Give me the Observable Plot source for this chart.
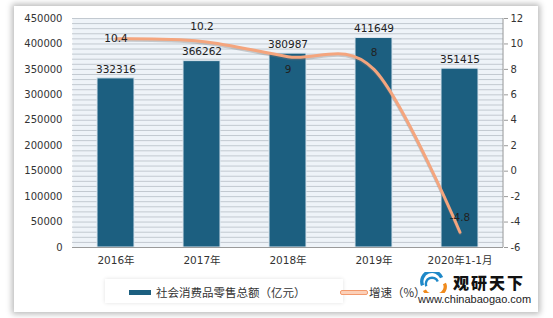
<!DOCTYPE html>
<html><head><meta charset="utf-8">
<script src="https://cdn.jsdelivr.net/npm/d3@7"></script>
<script src="https://cdn.jsdelivr.net/npm/@observablehq/plot@0.6"></script>
<style>
body{margin:0;background:#fff;}
#wrap{position:relative;width:553px;height:318px;overflow:hidden;font-family:"DejaVu Sans","Noto Sans CJK SC",sans-serif;}
#card{position:absolute;left:14px;top:6px;width:524px;height:306px;background:#fff;box-shadow:0 0 6px 2px rgba(0,0,0,0.28);}
#chart{position:absolute;left:0;top:0;}
#chart svg{background:transparent;}
#legendbox{position:absolute;left:105px;top:279px;width:238px;height:24px;background:#fff;box-shadow:0 0 4px rgba(0,0,0,0.12);}
.lg{position:absolute;font-family:"Noto Sans CJK SC",sans-serif;font-size:11.5px;color:#333;line-height:14px;}
.sw1{position:absolute;left:129px;top:290px;width:22px;height:5px;background:#1c5f80;}
.sw2{position:absolute;left:340px;top:290px;width:26px;height:3px;background:#fcd0b8;border:1px solid #f29a6e;border-radius:2px;}
#wm1{position:absolute;left:453px;top:273px;font-family:"Noto Sans CJK SC",sans-serif;font-weight:900;font-size:16px;letter-spacing:2px;color:#111;line-height:18px;}
#wm2{position:absolute;left:418px;top:293px;font-family:"Liberation Sans",Arial,sans-serif;font-size:11px;color:#222;line-height:12px;}
#logo{position:absolute;left:418px;top:272px;}
</style></head>
<body>
<div id="wrap">
  <div id="card"></div>
  <div id="chart"></div>
  <div id="legendbox"></div>
  <div class="sw1"></div>
  <div class="lg" style="left:156px;top:285px;">社会消费品零售总额（亿元）</div>
  <div class="sw2"></div>
  <div class="lg" style="left:369px;top:285px;">增速（%）</div>
  <svg id="logo" width="30" height="21" viewBox="0 0 30 22">
    <path d="M4 14 A10 10 0 0 1 24 6" fill="none" stroke="#1e88c8" stroke-width="3.5"/>
    <path d="M8 15 A6 6 0 0 1 20 10" fill="none" stroke="#1e88c8" stroke-width="2.5"/>
    <path d="M6 19 A11 9 0 0 0 27 12" fill="none" stroke="#f08a1c" stroke-width="3.5"/>
  </svg>
  <div id="wm1">观研天下</div>
  <div id="wm2">www.chinabaogao.com</div>
</div>
<script>
const years = ["2016年", "2017年", "2018年", "2019年", "2020年1-1月"];
const sales = [332316, 366262, 380987, 411649, 351415];
const growth = [10.4, 10.2, 9, 8, -4.8];
const leftTicks = [0, 50000, 100000, 150000, 200000, 250000, 300000, 350000, 400000, 450000];
const rightTicks = [-6, -4, -2, 0, 2, 4, 6, 8, 10, 12];

const yMax = 450000, gMin = -6, gMax = 12;
const toLeft = g => (g - gMin) / (gMax - gMin) * yMax;
const fromLeft = v => Math.round(v / yMax * (gMax - gMin) + gMin);

const data = years.map((y, i) => ({year: y, sales: sales[i], growth: growth[i], gy: toLeft(growth[i]), i}));

const rightAxisLine = (index, scales, values, dim) => {
  const x = dim.width - dim.marginRight;
  const l = document.createElementNS("http://www.w3.org/2000/svg", "line");
  l.setAttribute("x1", x); l.setAttribute("x2", x);
  l.setAttribute("y1", dim.marginTop); l.setAttribute("y2", dim.height - dim.marginBottom);
  l.setAttribute("stroke", "#9a9a9a");
  return l;
};

const chart = Plot.plot({
  width: 553,
  height: 272,
  marginLeft: 72,
  marginRight: 50,
  marginTop: 18,
  marginBottom: 25,
  style: {background: "transparent", color: "#333", fontFamily: "'DejaVu Sans','Noto Sans CJK SC',sans-serif"},
  x: {domain: years, paddingInner: 0.57, paddingOuter: 0.285, label: null},
  y: {domain: [0, yMax], label: null},
  marks: [
    Plot.frame({fill: "#eef3f8", stroke: null}),
    Plot.gridY({ticks: 45, stroke: "#c2c9d0", strokeOpacity: 1}),
    Plot.axisY(leftTicks, {tickSize: 0, tickPadding: 10, fontSize: 10, label: null, tickFormat: d => String(d)}),
    Plot.axisY(rightTicks.map(toLeft), {anchor: "right", tickSize: 4, tickPadding: 3, fontSize: 10, label: null, stroke: "#9a9a9a", tickFormat: d => String(fromLeft(d))}),
    rightAxisLine,
    Plot.axisX({tickSize: 0, tickPadding: 9, fontSize: 10.5, label: null}),
    Plot.barY(data, {x: "year", y: "sales", fill: "#1c5f80", stroke: "#d9e5ee", strokeWidth: 1}),
    Plot.ruleY([0], {stroke: "#9a9a9a"}),
    Plot.text(data, {x: "year", y: "sales", text: d => String(d.sales), dy: -9, fontSize: 10.5, fill: "#222"}),
    Plot.line(data, {x: "year", y: "gy", curve: "cardinal", stroke: "#777", strokeOpacity: 0.35, strokeWidth: 3, dy: 1.5}),
    Plot.line(data, {x: "year", y: "gy", curve: "cardinal", stroke: "#f4a57e", strokeWidth: 3}),
    Plot.text(data.filter(d => d.i === 0), {x: "year", y: "gy", text: d => String(d.growth), fontSize: 10.5, fill: "#222"}),
    Plot.text(data.filter(d => d.i === 1 || d.i === 4), {x: "year", y: "gy", text: d => String(d.growth), dy: -15, fontSize: 10.5, fill: "#222"}),
    Plot.text(data.filter(d => d.i === 3), {x: "year", y: "gy", text: d => String(d.growth), dy: -17, fontSize: 10.5, fill: "#222"}),
    Plot.text(data.filter(d => d.i === 2), {x: "year", y: "gy", text: d => String(d.growth), dy: 13, fontSize: 10.5, fill: "#222"})
  ]
});
document.getElementById("chart").appendChild(chart);
</script>
</body></html>
